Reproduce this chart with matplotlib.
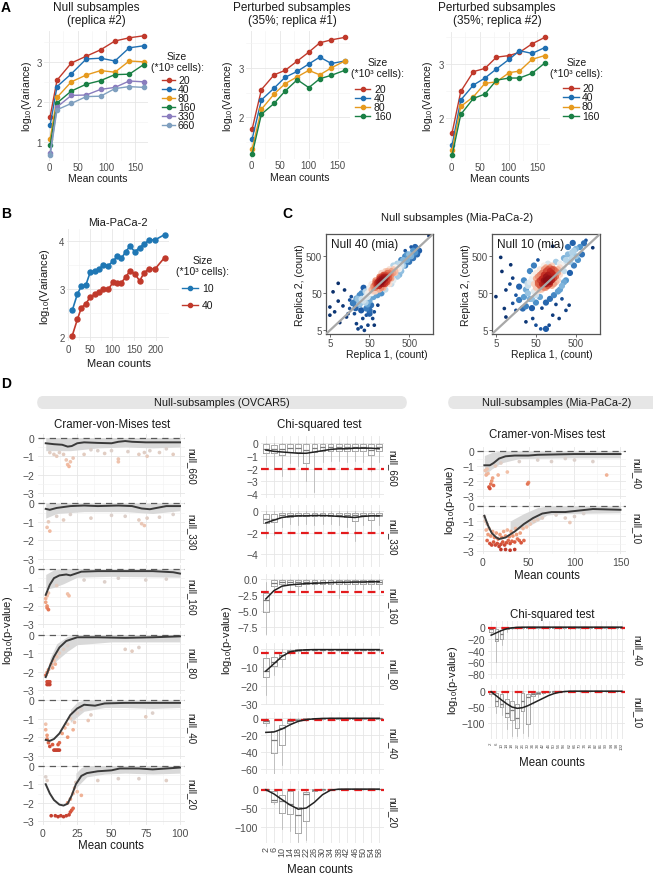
import numpy as np
import matplotlib
matplotlib.use("Agg")
import matplotlib.pyplot as plt
from matplotlib.colors import LinearSegmentedColormap
from matplotlib.patches import FancyBboxPatch
from matplotlib.lines import Line2D

# ---------------- data ----------------
# A: log10(variance) vs mean counts, by subsample size
a1_x = [2, 14, 39, 65, 90, 115, 140, 165]
a1_20 = [1.64, 2.55, 2.98, 3.15, 3.31, 3.53, 3.61, 3.66]
a1_40 = [1.42, 2.39, 2.71, 3.08, 3.10, 3.03, 3.36, 3.41]
a1_80 = [1.08, 2.12, 2.51, 2.68, 2.79, 2.75, 3.03, 3.01]
a1_160 = [0.92, 1.98, 2.28, 2.45, 2.54, 2.69, 2.70, 2.94]
a1_330 = [0.72, 1.88, 2.17, 2.18, 2.32, 2.37, 2.53, 2.51]
a1_660 = [0.67, 1.81, 1.97, 2.14, 2.15, 2.34, 2.39, 2.37]

a2_x = [2, 18, 40, 59, 80, 100, 119, 139, 162]
a2_20 = [1.76, 2.56, 2.86, 2.95, 3.14, 3.32, 3.51, 3.57, 3.62]
a2_40 = [1.56, 2.35, 2.59, 2.81, 2.93, 3.08, 3.22, 3.09, 3.14]
a2_80 = [1.36, 2.16, 2.47, 2.68, 2.82, 2.95, 2.86, 3.00, 3.14]
a2_160 = [1.25, 2.06, 2.28, 2.53, 2.76, 2.60, 2.78, 2.85, 2.95]

a3_x = [2, 17, 39, 59, 79, 101, 119, 141, 163]
a3_20 = [1.72, 2.49, 2.86, 2.92, 3.13, 3.16, 3.22, 3.38, 3.50]
a3_40 = [1.49, 2.33, 2.61, 2.74, 2.91, 3.09, 3.25, 3.20, 3.31]
a3_80 = [1.39, 2.21, 2.39, 2.64, 2.67, 2.84, 2.87, 3.09, 3.16]
a3_160 = [1.30, 2.06, 2.36, 2.44, 2.70, 2.74, 2.74, 2.83, 3.02]

size_labels = ['20', '40', '80', '160', '330', '660']
size_colors = ['#c0392b', '#1f6fb2', '#e69a1e', '#1a8045', '#8a7dbe', '#7f9fbf']

# B: Mia-PaCa-2
b_x = [9, 21, 30, 40, 50, 61, 71, 80, 91, 103, 112, 121, 131, 141, 152, 163, 173, 185, 198, 220]
b_10 = [2.55, 2.90, 3.06, 3.08, 3.35, 3.38, 3.43, 3.50, 3.49, 3.59, 3.69, 3.64, 3.78, 3.90, 3.78,
        3.87, 3.94, 4.03, 4.03, 4.14]
b_40 = [2.02, 2.37, 2.61, 2.69, 2.83, 2.89, 2.93, 3.00, 2.99, 3.15, 3.13, 3.13, 3.25, 3.38, 3.32,
        3.17, 3.34, 3.43, 3.42, 3.66]

# C: replica 1 vs replica 2 (log10 counts)
c40_pts = [(0.91, 1.97), (0.78, 1.74), (1.07, 1.79), (0.91, 1.49), (0.70, 1.33), (0.70, 1.11),
           (0.82, 1.20), (0.95, 0.91), (1.12, 1.06), (1.20, 1.29), (1.28, 1.43), (1.37, 1.56),
           (1.24, 1.61), (1.45, 1.65), (1.32, 1.15), (1.49, 1.24), (1.53, 1.02), (1.62, 1.11),
           (1.70, 1.24), (1.78, 1.02), (1.66, 0.84), (1.41, 0.74), (1.49, 0.79), (1.82, 0.84),
           (1.70, 1.15), (1.91, 1.38), (1.74, 1.38), (1.20, 1.52), (1.03, 1.36), (1.16, 1.15),
           (1.37, 0.88), (1.57, 0.70), (1.62, 1.29), (1.45, 1.43), (1.82, 1.20), (3.20, 3.25),
           (1.40, 1.55), (1.45, 1.40), (1.50, 1.70), (1.55, 1.50), (1.60, 1.75), (1.60, 1.45),
           (1.65, 1.60), (1.70, 1.85), (1.70, 1.50), (1.75, 1.70), (1.75, 1.95), (1.80, 1.60),
           (1.80, 1.85), (1.85, 1.75), (1.85, 2.05), (1.90, 1.65), (1.90, 1.90), (1.95, 2.15),
           (1.95, 1.80), (2.00, 1.70), (2.00, 2.25), (2.05, 1.85), (2.10, 2.30), (2.10, 1.80),
           (2.15, 2.00), (2.20, 2.35), (2.20, 1.95), (2.25, 2.10), (2.30, 2.45), (2.30, 2.05),
           (2.35, 2.25), (2.40, 2.50), (2.40, 2.15), (2.45, 2.35), (2.50, 2.60), (2.50, 2.30),
           (2.55, 2.45), (2.60, 2.70), (2.60, 2.45), (2.65, 2.60), (2.70, 2.75), (2.70, 2.55),
           (2.75, 2.70), (2.80, 2.85), (2.80, 2.65), (2.85, 2.80), (2.90, 2.90), (2.95, 2.85),
           (2.60, 2.85), (2.75, 2.95), (1.90, 2.00), (1.95, 2.05), (2.00, 2.00), (2.00, 2.10),
           (2.05, 2.05), (2.05, 2.15), (2.10, 2.10), (1.95, 1.95), (2.10, 2.20), (2.15, 2.15),
           (1.85, 1.95), (2.00, 1.95), (2.05, 1.95), (1.95, 2.10), (2.15, 2.25), (2.20, 2.20),
           (1.90, 1.90), (2.10, 2.00), (2.00, 2.05), (2.05, 2.10), (1.80, 1.90), (1.85, 1.85),
           (1.90, 1.95), (1.95, 2.00), (2.00, 2.15), (2.05, 2.20), (2.10, 2.15), (2.15, 2.05),
           (2.20, 2.25), (2.25, 2.30), (2.25, 2.20), (2.30, 2.35), (1.75, 1.80), (1.80, 1.75),
           (1.85, 2.00), (1.95, 1.90), (2.00, 1.85), (2.10, 1.95), (2.15, 2.30), (2.20, 2.10),
           (2.30, 2.25), (2.35, 2.40), (2.40, 2.35), (1.70, 1.75), (1.65, 1.70), (2.45, 2.50),
           (2.50, 2.45), (2.55, 2.60), (2.35, 2.30), (1.60, 1.60), (1.30, 1.45), (1.35, 1.30),
           (1.50, 1.55), (1.55, 1.85), (1.65, 1.40), (2.45, 2.20), (2.65, 2.75), (2.85, 2.95),
           (2.90, 2.75), (2.25, 1.95)]
c10_pts = [(0.82, 2.67), (0.85, 2.29), (0.70, 1.61), (1.07, 2.47), (1.12, 2.11), (0.95, 1.79),
           (0.91, 1.29), (0.95, 1.06), (1.20, 1.24), (1.28, 1.52), (1.45, 0.93), (1.62, 1.02),
           (1.70, 0.84), (1.82, 0.74), (1.95, 0.74), (2.03, 0.84), (2.12, 1.11), (2.28, 1.02),
           (2.45, 1.24), (2.53, 1.38), (1.37, 1.29), (1.20, 1.65), (1.28, 1.88), (1.12, 1.43),
           (1.49, 1.97), (2.12, 2.97), (2.62, 3.06), (2.95, 3.13), (3.12, 2.93), (1.05, 1.95),
           (1.40, 1.60), (1.45, 1.35), (1.50, 1.90), (1.55, 1.55), (1.60, 2.10), (1.60, 1.30),
           (1.65, 1.75), (1.70, 2.25), (1.70, 1.45), (1.75, 1.95), (1.80, 2.35), (1.80, 1.60),
           (1.85, 1.30), (1.90, 2.45), (1.95, 1.45), (2.00, 2.50), (2.05, 1.55), (2.10, 2.45),
           (2.15, 1.65), (2.20, 2.55), (2.25, 1.75), (2.30, 2.50), (2.35, 1.90), (2.40, 2.65),
           (2.45, 2.05), (2.50, 2.75), (2.55, 2.25), (2.60, 2.80), (2.65, 2.45), (2.70, 2.90),
           (2.75, 2.60), (2.80, 2.95), (2.85, 2.75), (2.90, 3.05), (1.55, 2.30), (1.65, 2.45),
           (2.35, 1.55), (2.20, 1.40), (1.75, 2.60), (2.50, 2.95), (1.85, 1.95), (1.90, 2.05),
           (1.95, 2.15), (2.00, 2.00), (2.00, 2.20), (2.05, 2.10), (2.10, 2.25), (1.95, 1.95),
           (1.80, 2.05), (2.10, 2.05), (2.15, 2.20), (1.90, 2.20), (2.05, 2.30), (1.85, 2.10),
           (2.20, 2.30), (2.00, 2.10), (1.95, 2.05), (2.05, 2.00), (1.80, 1.90), (2.15, 2.10),
           (1.75, 2.00), (2.25, 2.35), (1.90, 1.85), (2.10, 2.35), (1.70, 1.85), (1.75, 2.15),
           (1.80, 2.20), (1.85, 2.25), (1.90, 2.35), (1.95, 2.30), (2.00, 2.35), (2.05, 2.40),
           (2.10, 2.15), (2.15, 2.35), (2.20, 2.15), (2.25, 2.25), (2.30, 2.40), (1.80, 1.80),
           (1.85, 1.80), (1.90, 1.95), (1.95, 1.85), (2.00, 1.90), (2.05, 1.95), (2.10, 1.90),
           (2.20, 2.00), (2.30, 2.20), (1.70, 2.10), (1.65, 1.95), (2.35, 2.45), (2.40, 2.30),
           (1.75, 1.75), (2.25, 2.05), (2.15, 1.95), (1.95, 2.40), (1.50, 1.70), (1.55, 2.00),
           (1.60, 1.55), (1.65, 2.20), (1.70, 1.65), (2.40, 2.45), (2.45, 2.60), (2.55, 2.55),
           (2.60, 2.65), (2.65, 2.85), (2.30, 1.80), (2.40, 2.00), (1.45, 1.80), (1.40, 2.05),
           (2.70, 2.70)]

# D left: Cramer-von-Mises, OVCAR5 (smooth line, points, grey band)
s660_x = [2, 8, 14, 18, 21, 25, 30, 40, 50, 55, 60, 65, 75, 85, 100]
s660_y = [-0.30, -0.35, -0.38, -0.48, -0.45, -0.30, -0.25, -0.28, -0.30, -0.22, -0.18, -0.22, -0.25, -0.25, -0.25]
p660_x = [8, 10, 12, 15, 17, 18, 19, 20, 22, 55, 55, 74, 76, 78, 5, 30, 40, 45, 62, 70, 85, 90, 95, 35, 50]
p660_y = [-0.9, -1.0, -0.8, -0.9, -1.2, -1.45, -1.55, -1.3, -1.1, -1.15, -1.3, -0.8, -1.0, -0.7, -0.8,
          -0.9, -0.7, -0.85, -0.75, -0.9, -0.8, -0.6, -0.9, -0.65, -0.7]
b660_x = [2, 20, 40, 60, 80, 100]
b660_hi = [0, 0, 0, 0, 0, 0]
b660_lo = [-0.7, -0.7, -0.55, -0.5, -0.55, -0.5]

s330_x = [2, 5, 10, 20, 30, 40, 55, 65, 72, 78, 85, 90, 100]
s330_y = [-0.30, -0.35, -0.25, -0.15, -0.12, -0.15, -0.12, -0.15, -0.28, -0.32, -0.22, -0.15, -0.15]
p330_x = [3, 4, 5, 70, 72, 74, 76, 10, 20, 35, 50, 60, 85, 95, 15]
p330_y = [-1.3, -1.0, -1.5, -0.9, -1.1, -1.2, -0.8, -0.7, -0.6, -0.8, -0.65, -0.7, -0.75, -0.6, -0.9]
b330_x = [2, 10, 30, 60, 80, 100]
b330_hi = [0, 0, 0, 0, 0, 0]
b330_lo = [-0.8, -0.55, -0.45, -0.45, -0.55, -0.4]

s160_x = [2, 5, 8, 12, 17, 20, 28, 40, 60, 80, 95, 100]
s160_y = [-1.40, -0.85, -0.50, -0.35, -0.30, -0.35, -0.15, -0.12, -0.12, -0.12, -0.18, -0.25]
p160_x = [2, 2, 3, 3, 4, 3, 4, 10, 18, 19, 30, 45, 55, 75, 90]
p160_y = [-1.6, -1.8, -2.0, -2.1, -2.2, -1.45, -1.3, -0.9, -1.35, -1.45, -0.6, -0.7, -0.5, -0.6, -0.55]
b160_x = [2, 8, 15, 25, 50, 100]
b160_hi = [-0.3, -0.05, 0, 0, 0, 0]
b160_lo = [-1.1, -1.0, -0.8, -0.45, -0.4, -0.45]

s80_x = [2, 5, 8, 12, 17, 25, 40, 60, 80, 100]
s80_y = [-2.30, -1.70, -1.20, -0.70, -0.35, -0.15, -0.15, -0.18, -0.15, -0.10]
p80_x = [3, 4, 5, 3, 4, 5, 2, 3, 4, 6, 8, 10, 12, 15, 18, 7, 9, 60, 65, 70]
p80_y = [-2.55, -2.55, -2.55, -2.7, -2.7, -2.7, -2.2, -2.05, -1.9, -1.6, -1.4, -1.2, -1.0, -0.8, -0.6,
         -1.8, -1.6, -0.8, -0.9, -0.7]
b80_x = [5, 10, 18, 25, 50, 100]
b80_hi = [-1.3, -0.5, -0.1, 0, 0, 0]
b80_lo = [-1.9, -1.4, -0.9, -0.55, -0.4, -0.4]

s40_x = [2, 5, 8, 12, 16, 20, 25, 30, 38, 45, 60, 80, 100]
s40_y = [-2.15, -2.20, -2.10, -1.80, -1.30, -0.80, -0.45, -0.25, -0.30, -0.18, -0.15, -0.15, -0.15]
p40_x = [8, 9, 10, 11, 12, 5, 7, 11, 12, 2, 2, 3, 3, 4, 14, 16, 18, 20, 22, 23, 18, 25, 28, 33, 35, 75, 80]
p40_y = [-2.7, -2.7, -2.7, -2.7, -2.7, -2.5, -2.4, -2.4, -2.3, -1.3, -1.6, -1.9, -2.1, -2.3, -1.8,
         -1.5, -1.3, -1.0, -1.6, -1.2, -2.0, -0.7, -0.5, -1.1, -0.8, -0.9, -0.7]
b40_x = [20, 25, 30, 45, 60, 80, 100]
b40_hi = [-0.5, -0.1, 0, 0, 0, 0, 0]
b40_lo = [-1.2, -0.9, -0.6, -0.4, -0.4, -0.45, -0.4]

s20_x = [2, 5, 8, 12, 15, 18, 21, 24, 28, 32, 40, 50, 56, 70, 80, 100]
s20_y = [-1.00, -1.50, -1.85, -2.10, -2.15, -2.05, -1.60, -1.00, -0.55, -0.40, -0.30, -0.25, -0.15,
         -0.15, -0.20, -0.10]
p20_x = [6, 9, 11, 13, 15, 17, 19, 20, 21, 22, 2, 3, 18, 20, 22, 23, 24, 25, 28, 40, 55, 70, 90]
p20_y = [-2.7, -2.7, -2.75, -2.7, -2.75, -2.7, -2.65, -2.5, -2.4, -2.3, -0.6, -0.8, -2.0, -1.8, -1.5,
         -1.2, -0.9, -1.4, -1.6, -0.8, -0.7, -0.7, -0.8]
b20_x = [24, 28, 32, 45, 60, 80, 100]
b20_hi = [-0.4, -0.1, 0, 0, 0, 0, 0]
b20_lo = [-1.2, -0.9, -0.6, -0.45, -0.4, -0.45, -0.4]

# D right: Cramer-von-Mises, Mia-PaCa-2
m40_sx = [2, 8, 12, 18, 25, 35, 50, 60, 100, 150]
m40_sy = [-0.95, -0.95, -0.80, -0.50, -0.35, -0.30, -0.30, -0.25, -0.20, -0.20]
m40_px = [7, 8, 9, 10, 12, 11, 6, 5, 14, 17, 27, 50, 49, 3, 4, 20, 40, 60, 100, 120, 135, 75, 90]
m40_py = [-2.4, -2.5, -2.2, -2.0, -2.3, -1.8, -1.5, -1.2, -1.0, -1.6, -1.4, -2.1, -2.2, -1.3, -1.6,
          -0.8, -0.7, -0.6, -0.6, -0.7, -1.6, -0.7, -0.5]
m40_bx = [2, 10, 20, 40, 100, 150]
m40_bhi = [-0.3, -0.1, 0, 0, 0, 0]
m40_blo = [-1.6, -1.2, -0.8, -0.5, -0.45, -0.45]

m10_sx = [2, 6, 10, 15, 18, 25, 35, 45, 55, 65, 75, 90, 105, 120, 150]
m10_sy = [-0.65, -1.30, -1.80, -2.10, -2.20, -2.10, -1.70, -1.20, -0.80, -0.50, -0.40, -0.40, -0.30,
          -0.20, -0.25]
m10_px = [5, 8, 10, 12, 14, 16, 18, 20, 22, 24, 26, 28, 30, 32, 35, 38, 40, 42, 45, 6, 9, 13, 17, 21,
          25, 29, 33, 37, 41, 4, 7, 11, 15, 19, 23, 27, 31, 36, 44, 48, 52, 56, 60, 65, 3, 5, 2, 25,
          30, 35, 20, 90, 95, 100, 80, 110]
m10_py = [-2.3, -2.5, -2.6, -2.4, -2.6, -2.5, -2.7, -2.55, -2.4, -2.6, -2.45, -2.3, -2.5, -2.35, -2.4,
          -2.2, -2.3, -2.45, -2.3, -1.9, -2.0, -2.1, -2.2, -2.1, -2.0, -2.05, -2.0, -1.9, -1.8, -1.6,
          -1.5, -1.7, -1.8, -1.9, -1.7, -1.6, -1.7, -1.5, -1.5, -1.4, -1.2, -1.0, -0.9, -0.8, -1.0,
          -1.2, -0.7, -2.9, -2.95, -2.9, -2.9, -0.8, -1.1, -0.7, -0.6, -0.5]
m10_bx = [30, 45, 60, 70, 90, 150]
m10_bhi = [-1.0, -0.5, -0.1, 0, 0, 0]
m10_blo = [-1.6, -1.5, -1.0, -0.6, -0.5, -0.45]

# D middle: chi-squared boxplots, OVCAR5 (bins 2..58)
chi_bins = [str(v) for v in range(2, 59, 4)]
med660 = [-0.45, -0.5, -0.5, -0.35, -0.4, -0.55, -0.35, -0.3, -0.3, -0.3, -0.3, -0.3, -0.3, -0.55, -0.3]
q1_660 = [-0.75, -0.8, -0.95, -0.7, -0.7, -1.6, -0.7, -0.65, -0.6, -0.6, -0.6, -0.6, -0.6, -0.9, -0.6]
q3_660 = [-0.1, -0.15, -0.1, -0.1, -0.1, -0.1, -0.05, -0.05, -0.05, -0.05, -0.05, -0.05, -0.05, -0.05, -0.05]
lo660 = [-1.8, -2.0, -2.6, -1.6, -1.8, -3.0, -3.8, -1.5, -1.4, -1.4, -1.5, -1.4, -1.5, -2.2, -1.5]
hi660 = [0] * 15
sm660 = [-0.55, -0.65, -0.7, -0.75, -0.8, -0.8, -0.7, -0.6, -0.5, -0.45, -0.45, -0.4, -0.4, -0.4, -0.45]

med330 = [-0.75, -0.7, -0.4, -0.35, -0.35, -0.35, -0.35, -0.35, -0.35, -0.35, -0.4, -0.4, -0.35, -0.4, -0.35]
q1_330 = [-1.1, -1.0, -0.6, -0.55, -0.5, -0.5, -0.5, -0.5, -0.5, -0.5, -0.55, -0.9, -0.5, -0.8, -0.5]
q3_330 = [-0.25, -0.3, -0.15, -0.15, -0.15, -0.15, -0.15, -0.15, -0.15, -0.15, -0.15, -0.15, -0.15, -0.15, -0.15]
lo330 = [-2.5, -2.2, -1.5, -1.2, -1.3, -1.2, -1.3, -1.2, -1.2, -1.3, -1.5, -2.8, -1.3, -2.0, -1.3]
hi330 = [0] * 15
sm330 = [-1.1, -0.85, -0.6, -0.5, -0.45, -0.45, -0.42, -0.42, -0.45, -0.5, -0.55, -0.6, -0.5, -0.45, -0.45]

med160 = [-3.3, -0.6, -0.5, -0.5, -0.5, -0.4, -0.4, -0.4, -0.4, -0.4, -0.4, -0.4, -0.4, -0.4, -0.4]
q1_160 = [-5.2, -1.0, -0.8, -0.8, -1.1, -0.7, -0.7, -0.7, -0.7, -0.7, -0.7, -0.7, -0.7, -0.7, -0.7]
q3_160 = [-2.2, -0.2, -0.2, -0.2, -0.2, -0.15, -0.15, -0.15, -0.15, -0.15, -0.15, -0.15, -0.15, -0.15, -0.15]
lo160 = [-8.6, -2.2, -1.8, -1.8, -2.5, -1.6, -1.6, -1.6, -1.6, -3.0, -1.6, -1.6, -1.6, -1.6, -1.6]
hi160 = [-0.5] + [0] * 14
sm160 = [-3.1, -1.8, -1.1, -0.9, -0.8, -0.7, -0.65, -0.6, -0.55, -0.5, -0.5, -0.45, -0.45, -0.4, -0.4]

med80 = [-12, -7, -3, -0.8, -0.5, -0.4, -0.3, -0.3, -0.3, -0.3, -0.3, -0.3, -0.3, -0.3, -0.3]
q1_80 = [-15, -9, -5.5, -1.5, -0.9, -0.7, -0.6, -0.6, -0.6, -0.6, -0.6, -0.6, -0.6, -0.6, -0.6]
q3_80 = [-5, -4.5, -1.5, -0.3, -0.2, -0.1, -0.1, -0.1, -0.1, -0.1, -0.1, -0.1, -0.1, -0.1, -0.1]
lo80 = [-25, -14, -10, -3, -2, -1.5, -1.5, -1.5, -1.5, -1.5, -1.5, -1.5, -1.5, -1.5, -1.5]
hi80 = [-1, -0.5] + [0] * 13
sm80 = [-12, -8, -4, -1.5, -0.7, -0.4, -0.3, -0.3, -0.3, -0.3, -0.3, -0.3, -0.3, -0.3, -0.3]

med40 = [-4, -26, -12, -4, -2, -1, -0.8, -0.6, -0.5, -0.5, -0.5, -0.5, -0.5, -0.5, -0.5]
q1_40 = [-6, -41, -32, -6, -3, -1.5, -1.2, -1, -1, -1, -1, -1, -1, -1, -1]
q3_40 = [-2, -15, -8, -2, -0.8, -0.3, -0.3, -0.2, -0.2, -0.2, -0.2, -0.2, -0.2, -0.2, -0.2]
lo40 = [-10, -66, -55, -10, -6, -4, -3, -3, -3, -3, -3, -3, -3, -3, -3]
hi40 = [-0.5, -3, -1] + [0] * 12
sm40 = [-17, -16.5, -13, -8, -4, -2, -1, -0.6, -0.4, -0.4, -0.4, -0.4, -0.4, -0.4, -0.4]

med20 = [-1, -30, -32, -40, -68, -12, -3, -1, -0.5, -0.5, -0.5, -0.5, -0.5, -0.5, -0.5]
q1_20 = [-3, -35, -62, -65, -115, -85, -6, -2, -1, -1, -1, -1, -1, -1, -1]
q3_20 = [0, -5, -16, -5, -48, -9, -1, -0.3, -0.2, -0.2, -0.2, -0.2, -0.2, -0.2, -0.2]
lo20 = [-5, -40, -105, -110, -140, -135, -30, -5, -3, -3, -3, -3, -3, -3, -3]
hi20 = [0, 0, 0, 0, -5] + [0] * 10
sm20 = [-2, -13, -28, -42, -53, -50, -35, -15, -3, -0.5, -0.3, -0.3, -0.3, -0.3, -0.3]

# D right: chi-squared boxplots, Mia-PaCa-2 (bins 2..102)
mchi_bins = [str(v) for v in range(2, 103, 4)]
mmed40 = [-4, -20, -12, -2, -1] + [-0.5] * 21
mq1_40 = [-8, -24, -20, -3, -1.5] + [-1] * 21
mq3_40 = [-1, -3, -6, -0.5, -0.3] + [-0.2] * 21
mlo40 = [-12, -60, -30, -8, -4] + [-3] * 21
mhi40 = [0] * 26
msm40 = [-14, -10, -6, -3, -1.5, -0.8, -0.5] + [-0.4] * 19

mmed10 = [-3, -30, -40, -70, -60, -85, -30, -20, -10, -5, -3, -2, -1] + [-0.5] * 13
mq1_10 = [-8, -46, -50, -82, -92, -115, -62, -103, -15, -8, -5, -3, -2] + [-1] * 13
mq3_10 = [0, -5, -10, -25, -30, -40, -5, -10, -5, -2, -1, -0.5, -0.3] + [-0.2] * 13
mlo10 = [-15, -70, -75, -120, -140, -140, -130, -140, -40, -20, -10, -8, -5] + [-3] * 13
mhi10 = [0] * 26
msm10 = [-2, -15, -28, -40, -50, -54, -52, -46, -38, -30, -22, -14, -8, -4, -1.5, -0.5] + [-0.3] * 10

# ---------------- figure ----------------
W, H = 653, 878
plt.rcParams['font.family'] = ['Liberation Sans', 'DejaVu Sans']
plt.rcParams['mathtext.fontset'] = 'custom'
plt.rcParams['mathtext.rm'] = 'Liberation Sans'
plt.rcParams['mathtext.it'] = 'Liberation Sans:italic'
fig = plt.figure(figsize=(W / 100, H / 100), dpi=100)

GRID = '#e6e6e6'
TICK = '#4d4d4d'
LOGLAB = r'log$_{10}$(Variance)'
PLAB = r'log$_{10}$(p-value)'


def axpx(l, t, r, b):
    return fig.add_axes([l / W, 1 - b / H, (r - l) / W, (b - t) / H])


def txt(x, y, s, size=7.5, **kw):
    kw.setdefault('ha', 'center')
    kw.setdefault('va', 'center')
    kw.setdefault('color', '#1a1a1a')
    fig.text(x / W, 1 - y / H, s, fontsize=size, **kw)


def minimal(ax, size=7):
    for s in ax.spines.values():
        s.set_visible(False)
    ax.tick_params(which='both', length=0, pad=2, labelsize=size, labelcolor=TICK)
    ax.grid(True, which='major', color=GRID, lw=0.6)
    ax.grid(True, which='minor', color='#f2f2f2', lw=0.4)
    ax.set_axisbelow(True)


def legend(cx, y_title, x0, x1, xl, y0, step, labels, colors):
    txt(cx, y_title, 'Size', 7.5)
    txt(cx, y_title + 11, '(*10³ cells):', 7.5)
    for i, (lab, c) in enumerate(zip(labels, colors)):
        y = 1 - (y0 + i * step) / H
        fig.add_artist(Line2D([x0 / W, x1 / W], [y, y], color=c, lw=1))
        fig.add_artist(Line2D([(x0 + x1) / 2 / W], [y], color=c, marker='o', ms=3))
        fig.text(xl / W, y, lab, fontsize=7.5, ha='left', va='center', color='#1a1a1a')


# ---- A ----
a_panels = [
    ((44.4, 32, 147.6, 162), a1_x, [a1_20, a1_40, a1_80, a1_160, a1_330, a1_660], (0.53, 3.78), [1, 2, 3]),
    ((246.4, 32, 350.4, 160), a2_x, [a2_20, a2_40, a2_80, a2_160], (1.15, 3.75), [2, 3]),
    ((446.4, 33, 550, 162), a3_x, [a3_20, a3_40, a3_80, a3_160], (1.19, 3.60), [2, 3]),
]
for rect, xs, series, ylim, yt in a_panels:
    ax = axpx(*rect)
    minimal(ax)
    ax.tick_params(axis='x', pad=1)
    for ys, c in zip(series, size_colors):
        ax.plot(xs, ys, color=c, lw=1, marker='o', ms=3)
    ax.set_xlim(-8, 172)
    ax.set_xticks([0, 50, 100, 150])
    ax.set_xticks([25, 75, 125], minor=True)
    ax.set_yticks(yt)
    ax.set_yticks([0.5, 1.5, 2.5, 3.5], minor=True)
    ax.set_ylim(*ylim)

txt(96, 14.5, 'Null subsamples\n(replica #2)', 8.5, linespacing=1.2)
txt(292, 14.5, 'Perturbed subsamples\n(35%; replica #1)', 8.5, linespacing=1.2)
txt(497, 14.5, 'Perturbed subsamples\n(35%; replica #2)', 8.5, linespacing=1.2)
for x, yc in [(98, 179), (299.5, 178), (499.7, 179)]:
    txt(x, yc, 'Mean counts', 7.5)
for x in [27, 228.3, 428.3]:
    txt(x, 96, LOGLAB, 7.5, rotation=90)
legend(177, 57, 162, 175, 178, 81, 9.0, size_labels, size_colors)
legend(377.7, 63, 355, 370, 374, 90, 8.9, size_labels[:4], size_colors[:4])
legend(576.7, 63, 563, 579, 582, 89.3, 9.1, size_labels[:4], size_colors[:4])

# ---- B ----
ax = axpx(67.4, 230.4, 169, 342)
minimal(ax)
ax.plot(b_x, b_10, color='#1f77b4', lw=1.2, marker='o', ms=3.6)
ax.plot(b_x, b_40, color='#c0392b', lw=1.2, marker='o', ms=3.6)
ax.set_xlim(-2, 230)
ax.set_ylim(1.91, 4.25)
ax.set_xticks([0, 50, 100, 150, 200])
ax.set_xticks([25, 75, 125, 175], minor=True)
ax.set_yticks([2, 3, 4])
ax.set_yticks([2.5, 3.5], minor=True)
txt(118, 223, 'Mia-PaCa-2', 8)
txt(119, 364, 'Mean counts', 8)
txt(45, 287, LOGLAB, 8, rotation=90)
legend(203, 261, 182, 198, 202, 289, 17, ['10', '40'], ['#1f77b4', '#c0392b'])

# ---- C ----
dens_cmap = LinearSegmentedColormap.from_list('dens', ['#0a2f6b', '#1c5aa6', '#4f94cc', '#a6cde6', '#f7f4f0',
                                                        '#f5b59a', '#e06a4e', '#c2281f', '#8e0d14'])


def scatter_panel(rect, pts, label):
    ax = axpx(*rect)
    p = np.array(pts)
    d2 = ((p[:, None, :] - p[None, :, :]) ** 2).sum(-1)
    dens = np.exp(-d2 / (2 * 0.12 ** 2)).sum(1)
    order = np.argsort(dens)
    shade = np.linspace(0, 1, len(order)) ** 1.3
    sizes = np.where(shade < 0.12, 7, 20)
    ax.scatter(10 ** p[order, 0], 10 ** p[order, 1], c=shade, cmap=dens_cmap, vmin=0, vmax=1,
               s=sizes, lw=0, zorder=2)
    ax.plot([3, 3000], [3, 3000], color='#a8a8a8', lw=1.6, zorder=3)
    ax.set_xscale('log')
    ax.set_yscale('log')
    ax.set_xlim(4, 2000)
    ax.set_ylim(4, 2000)
    ax.set_xticks([5, 50, 500], ['5', '50', '500'])
    ax.set_yticks([5, 50, 500], ['5', '50', '500'])
    ax.minorticks_off()
    for s in ax.spines.values():
        s.set_color('#555555')
        s.set_linewidth(0.9)
    ax.tick_params(length=2, width=0.6, color='#555555', pad=1, labelsize=7, labelcolor=TICK)
    ax.text(0.05, 0.9, label, transform=ax.transAxes, fontsize=8.5, ha='left', va='center', color='#1a1a1a')
    return ax


scatter_panel((326, 235, 433, 335), c40_pts, 'Null 40 (mia)')
scatter_panel((492, 235, 600, 335), c10_pts, 'Null 10 (mia)')
txt(457, 218, 'Null subsamples (Mia-PaCa-2)', 8)
txt(386.7, 355, 'Replica 1, (count)', 7.5)
txt(551.7, 355, 'Replica 1, (count)', 7.5)
txt(300, 285, 'Replica 2, (count)', 7.5, rotation=90)
txt(466, 285, 'Replica 2, (count)', 7.5, rotation=90)

# ---- panel letters ----
for lab, x, y in [('A', 6, 8), ('B', 6, 214), ('C', 287, 214), ('D', 6, 384)]:
    txt(x, y, lab, 10, weight='bold', color='black')

# ---- D strips ----
for x0, x1, label, cx in [(37, 407, 'Null-subsamples (OVCAR5)', 222), (448, 668, 'Null-subsamples (Mia-PaCa-2)', 557)]:
    fig.add_artist(FancyBboxPatch((x0 / W, 1 - 410 / H), (x1 - x0) / W, 13 / H,
                                  boxstyle='round,pad=0,rounding_size=0.009', transform=fig.transFigure,
                                  fc='#e6e6e6', ec='none'))
    txt(cx, 403.5, label, 7.8)

p_cmap = LinearSegmentedColormap.from_list('pv', [(0, '#d4d4d4'), (0.25, '#ddd0ca'), (0.5, '#f2c1a8'),
                                                  (0.72, '#ec9470'), (0.86, '#d9583e'), (1, '#c0392b')])


def cvm_panel(rect, sx, sy, px, py, bx, bhi, blo, xlim, strip, sx_pos, bottom):
    ax = axpx(*rect)
    minimal(ax, 7.5)
    ax.fill_between(bx, blo, bhi, color='#d9d9d9', lw=0, zorder=1)
    ax.scatter(px, py, c=np.clip(-np.array(py) / 2.8, 0, 1), cmap=p_cmap, vmin=0, vmax=1, s=7, lw=0, zorder=2)
    ax.axhline(0, color='#5a5a5a', lw=0.9, ls=(0, (5, 4)), zorder=3)
    ax.plot(sx, sy, color='#3a3a3a', lw=1.4, zorder=4)
    ax.set_xlim(*xlim)
    ax.set_ylim(-3.2, 0.2)
    ax.set_yticks([0, -1, -2, -3])
    ax.set_yticks([-0.5, -1.5, -2.5], minor=True)
    if not bottom:
        ax.tick_params(labelbottom=False)
    txt(sx_pos, (rect[1] + rect[3]) / 2, strip, 7, rotation=270)
    return ax


left_rows = [
    (s660_x, s660_y, p660_x, p660_y, b660_x, b660_hi, b660_lo, 'null_660'),
    (s330_x, s330_y, p330_x, p330_y, b330_x, b330_hi, b330_lo, 'null_330'),
    (s160_x, s160_y, p160_x, p160_y, b160_x, b160_hi, b160_lo, 'null_160'),
    (s80_x, s80_y, p80_x, p80_y, b80_x, b80_hi, b80_lo, 'null_80'),
    (s40_x, s40_y, p40_x, p40_y, b40_x, b40_hi, b40_lo, 'null_40'),
    (s20_x, s20_y, p20_x, p20_y, b20_x, b20_hi, b20_lo, 'null_20'),
]
for i, row in enumerate(left_rows):
    top = 435 + 65.6 * i
    ax = cvm_panel((37.5, top, 185.5, top + 63), *row[:7], (-4, 104), row[7], 191, i == 5)
    ax.set_xticks([0, 25, 50, 75, 100])
    ax.set_xticks([12.5, 37.5, 62.5, 87.5], minor=True)
txt(112, 425, 'Cramer-von-Mises test', 8.3)
txt(111, 846, 'Mean counts', 8.3)
txt(8, 630, PLAB, 8, rotation=90)

right_rows = [
    (m40_sx, m40_sy, m40_px, m40_py, m40_bx, m40_bhi, m40_blo, 'null_40'),
    (m10_sx, m10_sy, m10_px, m10_py, m10_bx, m10_bhi, m10_blo, 'null_10'),
]
for i, row in enumerate(right_rows):
    top = 448 + 55 * i
    ax = cvm_panel((477, top, 626, top + 52), *row[:7], (-6, 156), row[7], 636, i == 1)
    ax.set_xticks([0, 50, 100, 150])
    ax.set_xticks([25, 75, 125], minor=True)
    ax.set_ylim(-3.2, 0.27)
txt(547, 435, 'Cramer-von-Mises test', 8.3)
txt(547, 576, 'Mean counts', 8.3)
txt(450, 500, PLAB, 8, rotation=90)


def chi_panel(rect, bins, med, q1, q3, lo, hi, sm, ylim, yticks, strip, sx_pos, bottom, lab_size):
    ax = axpx(*rect)
    minimal(ax, 7.5)
    pos = np.arange(1, len(bins) + 1)
    stats = [dict(med=m, q1=a, q3=b, whislo=l, whishi=h, fliers=[]) for m, a, b, l, h in zip(med, q1, q3, lo, hi)]
    ax.bxp(stats, positions=pos, widths=0.7, showcaps=False, showfliers=False, manage_ticks=False,
           boxprops=dict(color='#9a9a9a', lw=0.6), medianprops=dict(color='#7a7a7a', lw=0.9),
           whiskerprops=dict(color='#b0b0b0', lw=0.5))
    ax.axhline(-2, color='#e31a1c', lw=1.6, ls=(0, (3.5, 2.5)), zorder=4)
    ax.plot(pos, sm, color='#222222', lw=1.1, zorder=5)
    ax.set_xlim(0.4, len(bins) + 0.6)
    ax.set_ylim(*ylim)
    ax.set_yticks(yticks)
    ax.set_xticks(pos)
    if bottom:
        ax.set_xticklabels(bins, rotation=90, fontsize=lab_size)
    else:
        ax.tick_params(labelbottom=False)
    txt(sx_pos, (rect[1] + rect[3]) / 2, strip, 7, rotation=270)
    return ax


mid_rows = [
    (med660, q1_660, q3_660, lo660, hi660, sm660, (-4.3, 0.55), [0, -1, -2, -3, -4], 'null_660'),
    (med330, q1_330, q3_330, lo330, hi330, sm330, (-5.2, 0.56), [0, -2, -4], 'null_330'),
    (med160, q1_160, q3_160, lo160, hi160, sm160, (-8.9, 0.8), [0, -2.5, -5, -7.5], 'null_160'),
    (med80, q1_80, q3_80, lo80, hi80, sm80, (-30.5, 3.3), [0, -10, -20, -30], 'null_80'),
    (med40, q1_40, q3_40, lo40, hi40, sm40, (-66, 7), [0, -20, -40, -60], 'null_40'),
    (med20, q1_20, q3_20, lo20, hi20, sm20, (-142, 21), [0, -50, -100], 'null_20'),
]
for i, row in enumerate(mid_rows):
    top = 437 + 69 * i
    chi_panel((261, top, 384, top + 62), chi_bins, *row[:8], row[8], 392, i == 5, 6.5)
txt(319, 425, 'Chi-squared test', 8.3)
txt(320, 870, 'Mean counts', 8.3)
txt(227, 640, PLAB, 8, rotation=90)

mrows = [
    (mmed40, mq1_40, mq3_40, mlo40, mhi40, msm40, (-88, 10), [0, -20, -40, -60, -80], 'null_40', (622, 680)),
    (mmed10, mq1_10, mq3_10, mlo10, mhi10, msm10, (-150, 19), [0, -50, -100], 'null_10', (686, 740)),
]
for i, row in enumerate(mrows):
    t, b = row[9]
    chi_panel((488, t, 625, b), mchi_bins, *row[:8], row[8], 637, i == 1, 3.2)
txt(552, 615, 'Chi-squared test', 8.3)
txt(552, 763, 'Mean counts', 8.3)
txt(453, 680, PLAB, 8, rotation=90)

fig.savefig('out.png', dpi=100)
